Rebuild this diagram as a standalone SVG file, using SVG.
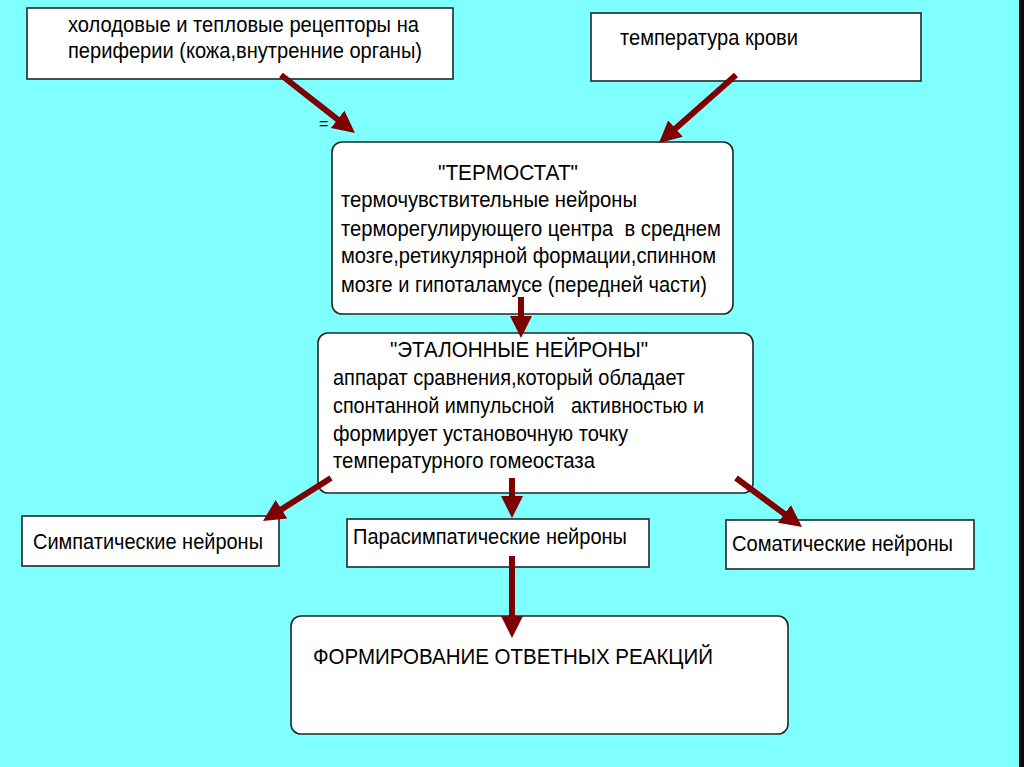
<svg xmlns="http://www.w3.org/2000/svg" width="1024" height="767" viewBox="0 0 1024 767">
<defs>
<style>
.box{fill:#ffffff;stroke:#1e2a2a;stroke-width:1.6}
.t{font-family:"Liberation Sans",Arial,sans-serif;font-size:22px;fill:#000000;white-space:pre}
.c{stroke:#7f0000;stroke-width:6;fill:none;marker-end:url(#ah)}
</style>
<marker id="ah" markerUnits="userSpaceOnUse" markerWidth="26" markerHeight="24" refX="12" refY="11" orient="auto">
<path d="M0,0 L22,11 L0,22 z" fill="#7f0000"/>
</marker>
</defs>
<rect x="0" y="0" width="1024" height="767" fill="#80ffff"/>
<rect x="1019" y="0" width="5" height="767" fill="#0a0a0a"/>
<g id="receptors">
<rect class="box" x="27" y="8" width="426" height="71"/>
<text class="t" x="68" y="32" textLength="351" lengthAdjust="spacingAndGlyphs">холодовые и тепловые рецепторы на</text>
<text class="t" x="68" y="58" textLength="354" lengthAdjust="spacingAndGlyphs">периферии (кожа,внутренние органы)</text>
</g>
<g id="blood">
<rect class="box" x="591" y="13" width="330" height="68"/>
<text class="t" x="620" y="45" textLength="178" lengthAdjust="spacingAndGlyphs">температура крови</text>
</g>
<text class="t" x="319" y="129" style="font-size:16px">=</text>
<g id="thermostat">
<rect class="box" x="332" y="142" width="401" height="172" rx="10"/>
<text class="t" x="438" y="180" textLength="140" lengthAdjust="spacingAndGlyphs">"ТЕРМОСТАТ"</text>
<text class="t" x="341" y="207" textLength="296" lengthAdjust="spacingAndGlyphs">термочувствительные нейроны</text>
<text class="t" x="341" y="236" textLength="380" lengthAdjust="spacingAndGlyphs" xml:space="preserve">терморегулирующего центра  в среднем</text>
<text class="t" x="341" y="263" textLength="375" lengthAdjust="spacingAndGlyphs">мозге,ретикулярной формации,спинном</text>
<text class="t" x="341" y="292" textLength="366" lengthAdjust="spacingAndGlyphs">мозге и гипоталамусе (передней части)</text>
</g>
<g id="reference">
<rect class="box" x="318" y="333" width="435" height="160" rx="10"/>
<text class="t" x="390" y="357" textLength="258" lengthAdjust="spacingAndGlyphs">"ЭТАЛОННЫЕ НЕЙРОНЫ"</text>
<text class="t" x="333" y="385" textLength="352" lengthAdjust="spacingAndGlyphs">аппарат сравнения,который обладает</text>
<text class="t" x="333" y="413" textLength="371" lengthAdjust="spacingAndGlyphs" xml:space="preserve">спонтанной импульсной   активностью и</text>
<text class="t" x="333" y="441" textLength="295" lengthAdjust="spacingAndGlyphs">формирует установочную точку</text>
<text class="t" x="333" y="468" textLength="262" lengthAdjust="spacingAndGlyphs">температурного гомеостаза</text>
</g>
<g id="sympathetic">
<rect class="box" x="22" y="516" width="257" height="50"/>
<text class="t" x="33" y="549" textLength="230" lengthAdjust="spacingAndGlyphs">Симпатические нейроны</text>
</g>
<g id="parasympathetic">
<rect class="box" x="347" y="519" width="302" height="48"/>
<text class="t" x="353" y="544" textLength="274" lengthAdjust="spacingAndGlyphs">Парасимпатические нейроны</text>
</g>
<g id="somatic">
<rect class="box" x="726" y="520" width="248" height="49"/>
<text class="t" x="732" y="551" textLength="221" lengthAdjust="spacingAndGlyphs">Соматические нейроны</text>
</g>
<g id="response">
<rect class="box" x="291" y="616" width="497" height="118" rx="10"/>
<text class="t" x="313" y="664" textLength="400" lengthAdjust="spacingAndGlyphs">ФОРМИРОВАНИЕ ОТВЕТНЫХ РЕАКЦИЙ</text>
</g>
<g id="connectors">
<line class="c" x1="281" y1="75" x2="347.1" y2="126.8"/>
<line class="c" x1="736" y1="75" x2="666.5" y2="136.4"/>
<line class="c" x1="521" y1="297" x2="521" y2="328"/>
<line class="c" x1="331" y1="478" x2="271.4" y2="515.7"/>
<line class="c" x1="512" y1="478" x2="512" y2="508"/>
<line class="c" x1="736" y1="478" x2="794" y2="521"/>
<line class="c" x1="512" y1="556" x2="512" y2="628"/>
</g>
</svg>
